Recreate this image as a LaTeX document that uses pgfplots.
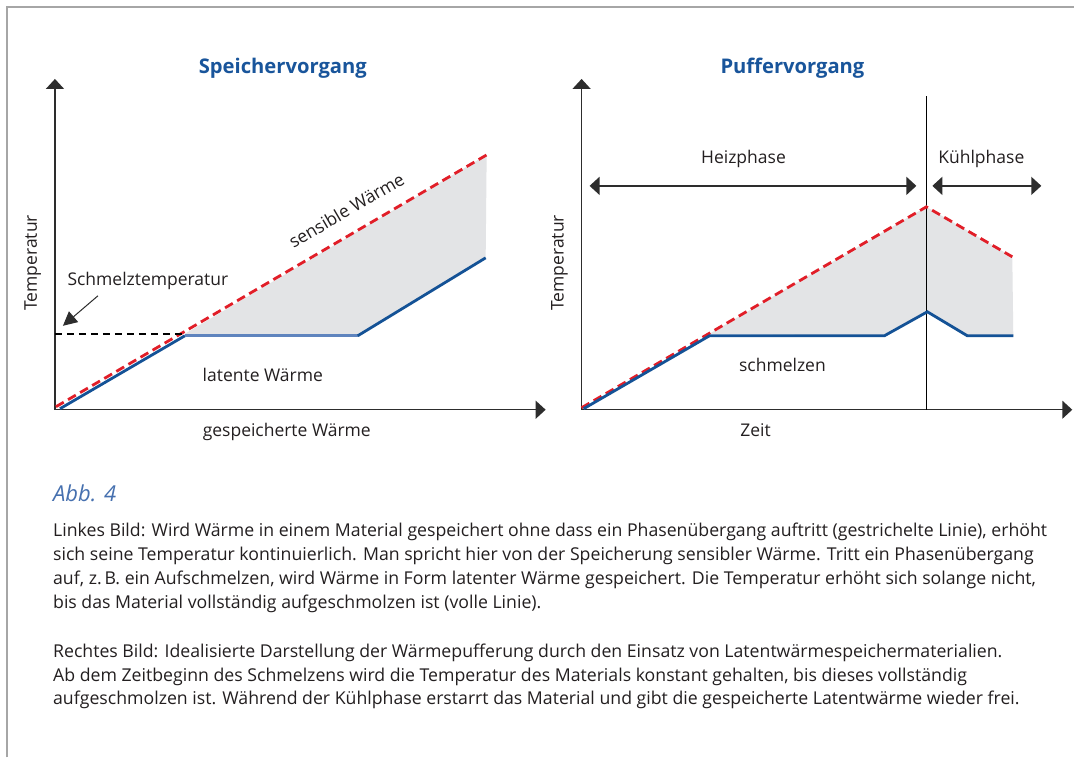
\documentclass[border=0pt]{standalone}
\usepackage{fontspec}
\setmainfont{Open Sans}
\usepackage{pgfplots}
\pgfplotsset{compat=1.18}
\usetikzlibrary{arrows.meta}
\definecolor{lineblue}{RGB}{20,82,150}
\definecolor{flatblue}{RGB}{95,132,190}
\definecolor{titleblue}{RGB}{25,85,155}
\definecolor{abbblue}{RGB}{70,112,175}
\definecolor{dashred}{RGB}{225,30,40}
\definecolor{fillgray}{RGB}{227,228,230}
\definecolor{txt}{RGB}{35,31,32}
\definecolor{axisgray}{RGB}{45,45,45}
\definecolor{framegray}{RGB}{166,166,166}
\newcommand{\lbl}{\fontsize{17.5}{20}\selectfont}
\newcommand{\captxt}{\fontsize{17.7}{24}\selectfont}
\pgfplotsset{schema/.style={
  anchor=south west, scale only axis, width=491pt, height=331pt,
  xmin=0, xmax=491, ymin=0, ymax=331,
  axis lines=left, xtick=\empty, ytick=\empty, clip=false,
  axis line style={axisgray, line width=1.5pt},
  x axis line style={-{Triangle[length=10pt,width=18pt]}},
  y axis line style={-{Triangle[length=10pt,width=18pt]}},
}}
\begin{document}
\begin{tikzpicture}[x=1pt,y=-1pt]
\fill[white] (0,0) rectangle (1075,758);
\draw[framegray, line width=1.5pt] (7,758) -- (7,7) -- (1075,7);
% ---------- left chart
\begin{axis}[schema, at={(55pt,-410pt)}]
\addplot[draw=none, fill=fillgray] coordinates {(130,76) (432,255) (431,152) (303,74)} -- cycle;
\addplot[dashred, line width=2.8pt, dash pattern=on 9pt off 5pt] coordinates {(1,3) (432,255)};
\addplot[black, line width=2pt, dash pattern=on 7pt off 5pt] coordinates {(0,76) (128,76)};
\addplot[lineblue, line width=2.8pt] coordinates {(5,1) (130,74)};
\addplot[flatblue, line width=2.8pt] coordinates {(130,74) (303,74)};
\addplot[lineblue, line width=2.8pt] coordinates {(303,74) (431,152)};
\draw[axisgray, line width=1pt, -{Triangle[length=14pt,width=14pt]}] (axis cs:43,114) -- (axis cs:8,84);
\end{axis}
% ---------- right chart
\begin{axis}[schema, at={(582pt,-410pt)}]
\addplot[draw=none, fill=fillgray] coordinates {(128,76) (345,203) (431,153) (432,74) (386,74) (346,98) (303,74)} -- cycle;
\addplot[black, line width=1.2pt] coordinates {(345,0) (345,314)};
\addplot[dashred, line width=2.8pt, dash pattern=on 9pt off 5pt] coordinates {(0,2) (345,203) (431,153)};
\addplot[lineblue, line width=2.8pt] coordinates {(2,1) (128,74) (303,74) (346,98) (386,74) (432,74)};
\draw[axisgray, line width=1.5pt, {Triangle[length=10pt,width=18pt]}-{Triangle[length=10pt,width=18pt]}] (axis cs:8,224) -- (axis cs:335,224);
\draw[axisgray, line width=1.5pt, {Triangle[length=10pt,width=18pt]}-{Triangle[length=10pt,width=18pt]}] (axis cs:351,224) -- (axis cs:460,224);
\end{axis}
% ---------- texts
\begin{scope}[every node/.style={inner sep=0pt, text=txt}]
\node[anchor=base, text=titleblue, font=\bfseries\fontsize{20.2}{22}\selectfont] at (283,74) {Speichervorgang};
\node[anchor=base, text=titleblue, font=\bfseries\fontsize{20.2}{22}\selectfont] at (793,74) {Puffervorgang};
\node[anchor=base, font=\lbl] at (287,437) {gespeicherte Wärme};
\node[anchor=base, font=\lbl] at (263,382) {latente Wärme};
\node[anchor=base, font=\lbl] at (148,286) {Schmelztemperatur};
\node[anchor=base, font=\lbl, rotate=30.3] at (350,216) {sensible Wärme};
\node[anchor=base, font=\lbl, rotate=90] at (37,263) {Temperatur};
\node[anchor=base, font=\lbl, rotate=90] at (564,263) {Temperatur};
\node[anchor=base, font=\lbl] at (744,164) {Heizphase};
\node[anchor=base, font=\lbl] at (982,164) {Kühlphase};
\node[anchor=base, font=\lbl] at (783,372) {schmelzen};
\node[anchor=base, font=\lbl] at (756,437) {Zeit};
\node[anchor=base west, text=abbblue, font=\itshape\fontsize{22}{24}\selectfont] at (53,502) {Abb. 4};
\node[anchor=base west, font=\captxt] at (53,537) {Linkes Bild: Wird Wärme in einem Material gespeichert ohne dass ein Phasenübergang auftritt (gestrichelte Linie), erhöht};
\node[anchor=base west, font=\captxt] at (53,561) {sich seine Temperatur kontinuierlich. Man spricht hier von der Speicherung sensibler Wärme. Tritt ein Phasenübergang};
\node[anchor=base west, font=\captxt] at (53,585) {auf, z.\,B. ein Aufschmelzen, wird Wärme in Form latenter Wärme gespeichert. Die Temperatur erhöht sich solange nicht,};
\node[anchor=base west, font=\captxt] at (53,609) {bis das Material vollständig aufgeschmolzen ist (volle Linie).};
\node[anchor=base west, font=\captxt] at (53,658) {Rechtes Bild: Idealisierte Darstellung der Wärmepufferung durch den Einsatz von Latentwärmespeichermaterialien.};
\node[anchor=base west, font=\captxt] at (53,682) {Ab dem Zeitbeginn des Schmelzens wird die Temperatur des Materials konstant gehalten, bis dieses vollständig};
\node[anchor=base west, font=\captxt] at (53,705) {aufgeschmolzen ist. Während der Kühlphase erstarrt das Material und gibt die gespeicherte Latentwärme wieder frei.};
\end{scope}
\end{tikzpicture}
\end{document}
